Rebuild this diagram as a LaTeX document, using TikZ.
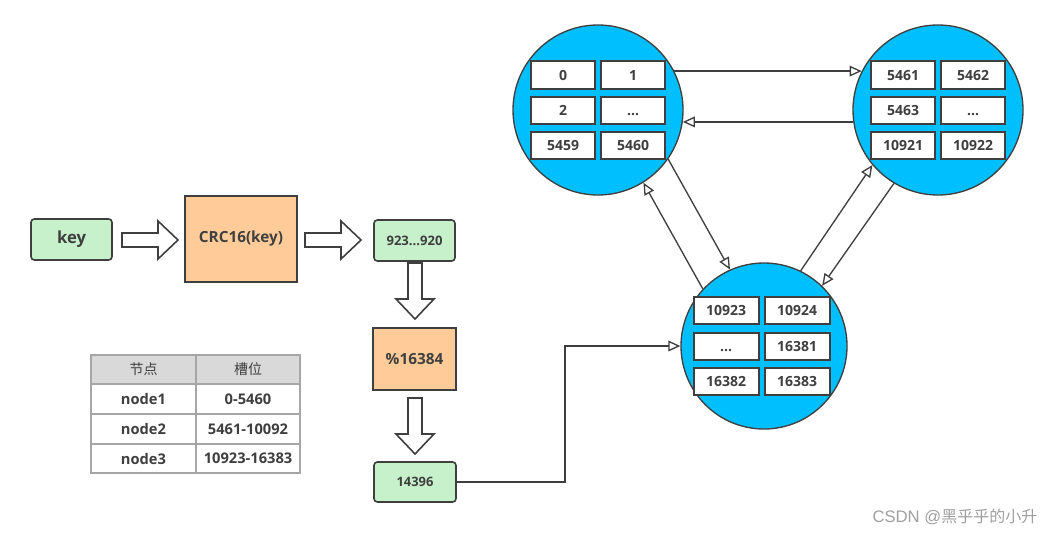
\documentclass[tikz,border=0pt]{standalone}
\usepackage{fontspec}
\setmainfont{Open Sans}[BoldFont=* Bold]
\newfontfamily\cjk{Noto Sans CJK SC}
\newfontfamily\marklatin{Liberation Sans}
\usetikzlibrary{arrows.meta}

\definecolor{ink}{HTML}{3F3F3F}
\definecolor{keygreen}{HTML}{C6F1CB}
\definecolor{calcorange}{HTML}{FFCC99}
\definecolor{nodeblue}{HTML}{00BFFF}
\definecolor{headgray}{HTML}{D9D9D9}
\definecolor{gridgray}{HTML}{A6A6A6}

\newcommand\dotsthree{...}

\tikzset{
  keybox/.style={draw=ink,line width=1.2pt,fill=keygreen,rounded corners=2.5pt,inner sep=0pt,text=ink},
  calcbox/.style={draw=ink,line width=1.2pt,fill=calcorange,inner sep=0pt,text=ink},
  redisnode/.style={circle,draw=ink,line width=1pt,fill=nodeblue,inner sep=0pt,minimum size=127.5pt},
  slotcell/.style={draw=ink,line width=1.5pt,fill=white,inner sep=0pt,text=ink,text height=7.5pt,text depth=0pt,
    minimum width=47.5pt,minimum height=20.25pt,font=\bfseries\fontsize{10.5}{12}\selectfont},
  tabletext/.style={text=ink,font=\bfseries\fontsize{11}{13}\selectfont},
  link/.style={draw=ink,line width=1pt,-{Triangle[open,length=9pt,width=8pt,fill=white]}},
  hollow/.style={draw=ink,line width=1.2pt,fill=white,line join=miter},
  pics/fatarrow/.style={code={
    \draw[hollow] (0,-7) -- (36,-7) -- (36,-19) -- (56,0) -- (36,19) -- (36,7) -- (0,7) -- cycle;}}
}

\begin{document}
\begin{tikzpicture}[x=0.75pt,y=-0.75pt]
  \useasboundingbox (0,0) rectangle (1055,535);

  % key -> hash -> slot
  \node[keybox,minimum width=60.75pt,minimum height=30.75pt,font=\bfseries\fontsize{12.5}{14}\selectfont] (key) at (71.5,239.5) {key};
  \node[calcbox,minimum width=84pt,minimum height=64.5pt,font=\bfseries\fontsize{11.5}{13}\selectfont] (crc) at (241,239) {CRC16(key)};
  \node[keybox,minimum width=60.75pt,minimum height=30.75pt,font=\bfseries\fontsize{9.8}{12}\selectfont] (raw) at (414.5,240.5) {923...920};
  \node[calcbox,minimum width=62.25pt,minimum height=46.5pt,font=\bfseries\fontsize{11.5}{13}\selectfont] (mod) at (414.5,359) {\%16384};
  \node[keybox,minimum width=61.5pt,minimum height=30pt,font=\bfseries\fontsize{9.7}{12}\selectfont] (slotid) at (415,482) {14396};

  \pic at (122,240) {fatarrow};
  \pic at (305,240) {fatarrow};
  \pic[rotate=-90] at (415,263) {fatarrow};
  \pic[rotate=-90] at (415,398) {fatarrow};

  % cluster nodes
  \node[redisnode] (n1) at (598,110) {};
  \node[redisnode] (n2) at (938,110) {};
  \node[redisnode,minimum size=124.5pt] (n3) at (764,346) {};

  \foreach \lbl/\dx/\dy [count=\i] in {0/-35/-35, 1/35/-35, 2/-35/0, \dotsthree/35/0, 5459/-35/35, 5460/35/35}
    \node[slotcell] (n1s\i) at ([shift={(\dx,\dy)}]n1.center) {\lbl};
  \foreach \lbl/\dx/\dy [count=\i] in {5461/-35/-35, 5462/35/-35, 5463/-35/0, \dotsthree/35/0, 10921/-35/35, 10922/35/35}
    \node[slotcell] (n2s\i) at ([shift={(\dx,\dy)}]n2.center) {\lbl};
  \foreach \lbl/\dx/\dy [count=\i] in {10923/-38/-35.5, 10924/33/-35.5, \dotsthree/-38/0, 16381/33/0, 16382/-38/35, 16383/33/35}
    \node[slotcell,minimum width=48.75pt] (n3s\i) at ([shift={(\dx,\dy)}]n3.center) {\lbl};

  \draw[link] (n1.27) -- (n2.153);
  \draw[link] (n2.188) -- (n1.352);
  \draw[link] (n1.-35) -- (n3.114);
  \draw[link] (n3.137) -- (n1.-58);
  \draw[link] (n3.64) -- (n2.220);
  \draw[link] (n2.239) -- (n3.46);

  \coordinate (bend) at (565,346);
  \draw[link] (slotid.east) -| (bend) -- (n3.west);

  % slot table
  \fill[headgray] (91,355) rectangle (300,384);
  \draw[gridgray,line width=1pt] (91,355) rectangle (300,473);
  \foreach \y in {384,414,444}
    \draw[gridgray,line width=1pt] (91,\y) -- (300,\y);
  \draw[gridgray,line width=1pt] (196,355) -- (196,473);

  \node[text=ink,font=\cjk\fontsize{10.5}{12}\selectfont] (th1) at (143.5,369.5) {节点};
  \node[text=ink,font=\cjk\fontsize{10.5}{12}\selectfont] (th2) at (248,369.5) {槽位};
  \foreach \name/\range/\y [count=\i] in {node1/0-5460/399, node2/5461-10092/429, node3/10923-16383/458.5} {
    \node[tabletext] (tn\i) at (143.5,\y) {\name};
    \node[tabletext] (tr\i) at (248,\y) {\range};
  }

  \node[anchor=east,text=gray!75,font=\cjk\fontsize{12}{14}\selectfont] (mark) at (1042,517) {{\marklatin\fontsize{12.5}{14}\selectfont CSDN @}黑乎乎的小升};
\end{tikzpicture}
\end{document}
